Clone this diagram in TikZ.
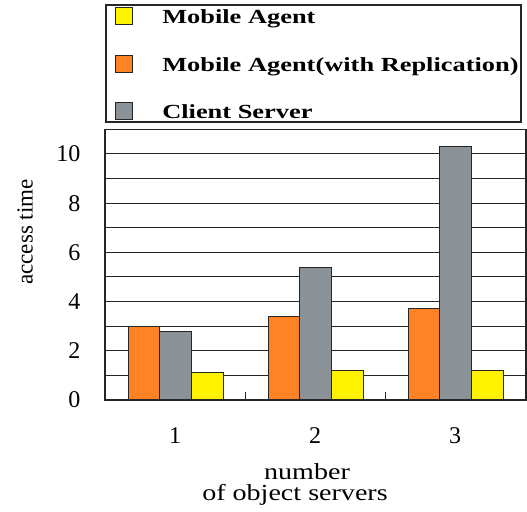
\documentclass[tikz,border=0pt]{standalone}
\usepackage{fontspec}
\setmainfont{Liberation Serif}
\definecolor{mayellow}{HTML}{FFF200}
\definecolor{maorange}{HTML}{FF8225}
\definecolor{csgray}{HTML}{8A9197}

\begin{document}
\begin{tikzpicture}[x=1pt,y=1pt,
  bar/.style={draw=black!85,line width=1pt},
  rule/.style={draw=black!85,line width=1pt},
  ticklabel/.style={font=\fontsize{24}{24}\selectfont},
  axislabel/.style={font=\fontsize{23}{23}\selectfont,xscale=1.22},
  legendtext/.style={font=\fontsize{20}{20}\selectfont\bfseries,xscale=1.32,inner sep=0pt,anchor=base west},
]
\useasboundingbox (0,0) rectangle (527,511);

% Legend
\draw[line width=1.2pt,draw=black!85] (106,389) rectangle (521,506);
\foreach \n/\col/\txt/\yb in {a/mayellow/Mobile Agent/487,
                                b/maorange/Mobile Agent(with Replication)/439.3,
                                c/csgray/Client Server/392} {
  \draw[bar,fill=\col] (115,\yb-1) rectangle (132,\yb+16);
  \node[legendtext] (leg\n) at (162,\yb) {\txt};
}

% Grid
\foreach \v in {1,...,10}
  \draw[rule] (105,111+24.6*\v) -- (526,111+24.6*\v);

% Bars
\foreach \c/\o/\g/\y in {1/3.0/2.8/1.1, 2/3.4/5.4/1.2, 3/3.7/10.3/1.2} {
  \pgfmathsetmacro{\cx}{175+140*(\c-1)}
  \draw[bar,fill=maorange] (\cx-46.5,111) rectangle (\cx-15.5,111+24.6*\o);
  \draw[bar,fill=csgray] (\cx-15.5,111) rectangle (\cx+16.5,111+24.6*\g);
  \draw[bar,fill=mayellow] (\cx+16.5,111) rectangle (\cx+48,111+24.6*\y);
  \node[ticklabel] (xt\c) at (\cx,75) {\c};
}

% Frame and ticks
\draw[line width=1.2pt,draw=black!85] (105,111) rectangle (526,381.6);
\foreach \x in {245.5,385.5}
  \draw[rule] (\x,111) -- (\x,119);

% Axis labels
\foreach \v in {0,2,...,10}
  \node[ticklabel,anchor=east] (yt\v) at (84,111+24.6*\v) {\v};
\node[font=\fontsize{23}{23}\selectfont,rotate=90] (ylab) at (25,279) {access time};
\node[axislabel] (xlab1) at (307,39) {number};
\node[axislabel] (xlab2) at (295,16) {of object servers};
\end{tikzpicture}
\end{document}
